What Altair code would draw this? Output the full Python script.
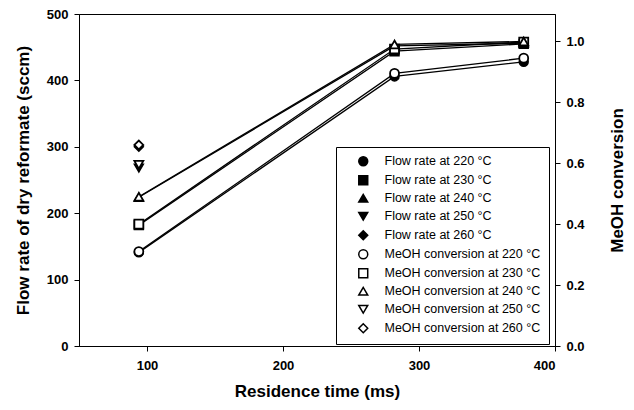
import altair as alt
import pandas as pd

# ---- data ----
times = [94, 282, 377]
temps = ["220", "230", "240", "250", "260"]

flow_220 = [141, 406, 428]
flow_230 = [182, 444, 455]
flow_240 = [224, 452, 456]
flow_250 = [268]
flow_260 = [300]

conv_220 = [0.31, 0.895, 0.945]
conv_230 = [0.40, 0.975, 0.998]
conv_240 = [0.49, 0.99, 1.0]
conv_250 = [0.595]
conv_260 = [0.66]

x_ticks = [100, 200, 300, 400]
flow_ticks = [0, 100, 200, 300, 400, 500]
conv_ticks = [0.0, 0.2, 0.4, 0.6, 0.8, 1.0]

flow_labels = [f"Flow rate at {t} °C" for t in temps]
conv_labels = [f"MeOH conversion at {t} °C" for t in temps]
all_labels = flow_labels + conv_labels
shape_range = ["circle", "square", "triangle-up", "triangle-down", "diamond"] * 2
fill_range = ["black"] * 5 + ["white"] * 5
stroke_range = ["black"] * 10

flow_series = [flow_220, flow_230, flow_240, flow_250, flow_260]
conv_series = [conv_220, conv_230, conv_240, conv_250, conv_260]

flow_rows = []
for lab, vals in zip(flow_labels, flow_series):
    for t, v in zip(times, vals):
        flow_rows.append({"series": lab, "time": t, "flow": v})
conv_rows = []
for lab, vals in zip(conv_labels, conv_series):
    for t, v in zip(times, vals):
        conv_rows.append({"series": lab, "time": t, "conv": v})

flow_df = pd.DataFrame(flow_rows)
conv_df = pd.DataFrame(conv_rows)

FONT = "Liberation Sans"
H = 332

x_enc = alt.X(
    "time:Q",
    scale=alt.Scale(domain=[50, 400], nice=False, zero=False),
    axis=alt.Axis(
        values=x_ticks, title="Residence time (ms)", grid=False,
        tickSize=5, labelPadding=8, titlePadding=11,
        labelFont=FONT, labelFontSize=13, labelFontWeight="bold",
        titleFont=FONT, titleFontSize=17, titleFontWeight="bold",
        domainColor="black", tickColor="black", labelColor="black", titleColor="black",
    ),
)

y_flow = alt.Y(
    "flow:Q",
    scale=alt.Scale(domain=[0, 500], nice=False),
    axis=alt.Axis(
        values=flow_ticks, title="Flow rate of dry reformate (sccm)", grid=False,
        orient="left", tickSize=5, labelPadding=6,
        titleAngle=270, titleX=-56, titleY=H / 2, titleAlign="center", titleBaseline="middle",
        labelFont=FONT, labelFontSize=13, labelFontWeight="bold",
        titleFont=FONT, titleFontSize=17, titleFontWeight="bold",
        domainColor="black", tickColor="black", labelColor="black", titleColor="black",
    ),
)

y_conv = alt.Y(
    "conv:Q",
    scale=alt.Scale(domain=[0, 1.09], nice=False),
    axis=alt.Axis(
        values=conv_ticks, format=".1f", title="MeOH conversion", grid=False,
        orient="right", tickSize=5, labelPadding=6,
        titleAngle=270, titleX=62, titleY=H / 2, titleAlign="center", titleBaseline="middle",
        labelFont=FONT, labelFontSize=13, labelFontWeight="bold",
        titleFont=FONT, titleFontSize=17, titleFontWeight="bold",
        domainColor="black", tickColor="black", labelColor="black", titleColor="black",
    ),
)

legend = alt.Legend(
    title=None, orient="none", legendX=257, legendY=133,
    strokeColor="black", fillColor="white", padding=8,
    symbolOffset=13, labelOffset=15, rowPadding=3, symbolSize=80,
    symbolStrokeColor="black", symbolStrokeWidth=1.5,
    labelFont=FONT, labelFontSize=12.5, labelColor="black", labelLimit=300,
)

shape_enc = alt.Shape("series:N", scale=alt.Scale(domain=all_labels, range=shape_range), legend=legend)
fill_enc = alt.Fill("series:N", scale=alt.Scale(domain=all_labels, range=fill_range), legend=legend)
stroke_enc = alt.Stroke("series:N", scale=alt.Scale(domain=all_labels, range=stroke_range), legend=legend)

flow_lines = alt.Chart(flow_df).mark_line(color="black", strokeWidth=1.3).encode(
    x=x_enc, y=y_flow, detail="series:N"
)
flow_pts = alt.Chart(flow_df).mark_point(filled=True, strokeWidth=1.5, size=80, opacity=1).encode(
    x=x_enc, y=y_flow, shape=shape_enc, fill=fill_enc, stroke=stroke_enc
)
conv_lines = alt.Chart(conv_df).mark_line(color="black", strokeWidth=1.3).encode(
    x=x_enc, y=y_conv, detail="series:N"
)
conv_pts = alt.Chart(conv_df).mark_point(filled=True, strokeWidth=1.8, size=80, opacity=1).encode(
    x=x_enc, y=y_conv, shape=shape_enc, fill=fill_enc, stroke=stroke_enc
)

flow_layer = alt.layer(flow_lines, flow_pts)
conv_layer = alt.layer(conv_lines, conv_pts)

chart = (
    alt.layer(flow_layer, conv_layer)
    .resolve_scale(y="independent")
    .properties(
        width=476, height=H,
        autosize=alt.AutoSizeParams(type="none"),
        padding={"left": 71, "top": 6, "right": 71, "bottom": 56},
    )
    .configure_view(stroke="black", strokeWidth=1)
)

chart.save("out.html", embed_options={"renderer": "svg", "actions": False})
